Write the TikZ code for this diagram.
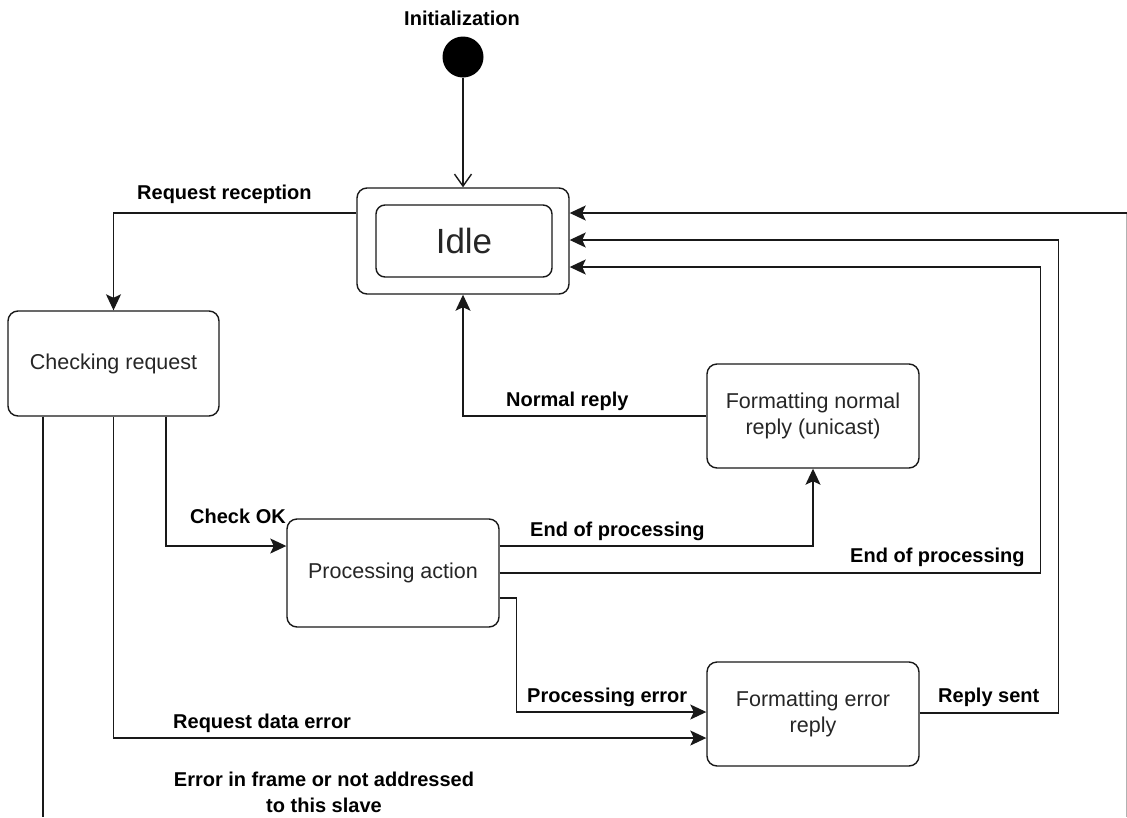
\documentclass[tikz,border=0pt]{standalone}
\usepackage{fontspec}
\setmainfont{Liberation Sans}
\usetikzlibrary{arrows.meta,calc}

\begin{document}
\begin{tikzpicture}[x=1pt,y=-1pt,
  state/.style={draw=black!90, line width=1.4pt, rounded corners=10pt,
    minimum width=212pt, minimum height=104pt, align=center,
    font=\fontsize{21.5}{26}\selectfont, text=black!85, inner sep=0pt},
  lab/.style={font=\bfseries\fontsize{20}{26}\selectfont, inner sep=0pt, anchor=west},
  conn/.style={line width=1.2pt, draw=black!90},
  arr/.style={conn, -{Stealth[length=16pt,width=15pt,inset=3.5pt]}},
  initarr/.style={conn, -{Straight Barb[length=12pt,width=17pt,line width=1.4pt]}}
]
\useasboundingbox[fill=white] (0,0) rectangle (1127,817);

% states
\node[circle, fill=black, minimum size=41pt, inner sep=0pt] (init) at (463,57) {};
\node[lab, anchor=center] (initlab) at (462,18) {Initialization};
\node[state, minimum height=106pt] (idle) at (463,241) {};
\node[state, minimum width=176pt, minimum height=72pt, rounded corners=9pt,
      font=\fontsize{35}{40}\selectfont] (idletxt) at (464,241) {Idle};
\node[state, minimum width=211pt, minimum height=105pt] (check) at (113.5,363.5) {Checking request};
\node[state, minimum height=108pt] (proc) at (393,573) {Processing action};
\node[state] (fnorm) at (813,416) {Formatting normal\\reply (unicast)};
\node[state] (ferr) at (813,714) {Formatting error\\reply};

% entry points on the right side of Idle
\coordinate (in1) at ([yshift=28pt]idle.east);
\coordinate (in2) at ([yshift=1pt]idle.east);
\coordinate (in3) at ([yshift=-26pt]idle.east);
% loose ends of the frame-error loop
\coordinate (errdown) at (43,817);
\coordinate (errup) at (1126.5,817);

% transitions
\draw[initarr] (init) -- (idle.north);
\draw[arr] ([yshift=28pt]idle.west) -| (check.north);
\draw[arr] ([xshift=52.5pt]check.south) |- ([yshift=27pt]proc.west);
\draw[arr] ([yshift=27pt]proc.east) -| (fnorm.south);
\draw[arr] (fnorm.west) -| (idle.south);
\draw[arr] (proc.east) -- ++(541,0) |- (in3);
\draw[conn, line width=2.2pt] ([xshift=31pt]proc.east) -- ++(479,0);
\draw[arr] ([yshift=-25pt]proc.east) -- ++(17,0) |- ([yshift=2pt]ferr.west);
\draw[arr] (check.south) |- ([yshift=-24pt]ferr.west);
\draw[arr] ([yshift=1pt]ferr.east) -- ++(139,0) |- (in2);
\draw[conn] (check.south -| errdown) -- (errdown);
\draw[conn, line width=2.2pt] (check.south -| errdown) -- ++(0,324);
\draw[conn, black!30] (errup) -- (errup |- in1);
\draw[arr] (errup |- in1) -- (in1);

% transition labels
\node[lab] (l1) at (137,194) {Request reception};
\node[lab] (l2) at (506,401) {Normal reply};
\node[lab] (l3) at (190,516) {Check OK};
\node[lab] (l4) at (530,531) {End of processing};
\node[lab] (l5) at (850,557) {End of processing};
\node[lab] (l6) at (527,697) {Processing error};
\node[lab] (l7) at (173,723) {Request data error};
\node[lab, anchor=center, align=center] (l8) at (324,792) {Error in frame or not addressed\\to this slave};
\node[lab] (l9) at (938,697) {Reply sent};
\end{tikzpicture}
\end{document}
